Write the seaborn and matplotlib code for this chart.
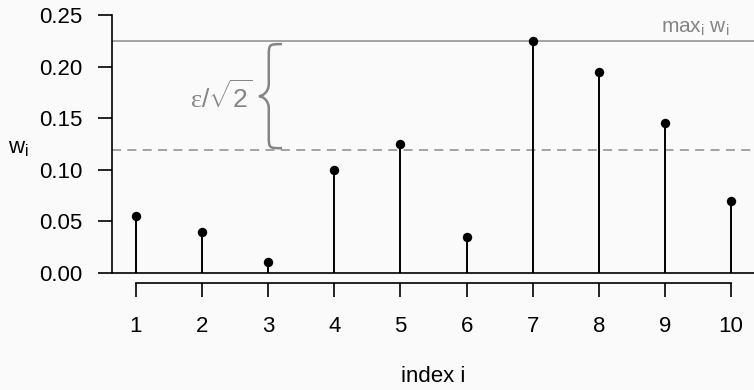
import numpy as np
import pandas as pd
import matplotlib
matplotlib.use("Agg")
import matplotlib.pyplot as plt
from matplotlib.path import Path
from matplotlib.patches import PathPatch
import seaborn as sns

# Weights w_i for each index i
index = [1, 2, 3, 4, 5, 6, 7, 8, 9, 10]
weights = [0.055, 0.040, 0.010, 0.100, 0.125, 0.035, 0.225, 0.195, 0.145, 0.070]
y_ticks = [0.00, 0.05, 0.10, 0.15, 0.20, 0.25]
y_tick_labels = ["0.00", "0.05", "0.10", "0.15", "0.20", "0.25"]
epsilon = 0.15

df = pd.DataFrame({"i": index, "w": weights})
w_max = max(weights)
threshold = w_max - epsilon / np.sqrt(2)

sns.set_theme(style="ticks")
plt.rcParams["font.family"] = ["Liberation Sans", "DejaVu Sans"]
plt.rcParams["mathtext.fontset"] = "custom"
plt.rcParams["mathtext.rm"] = "Liberation Sans"
plt.rcParams["mathtext.it"] = "Liberation Serif"
plt.rcParams["mathtext.bf"] = "Liberation Sans:bold"

BG = "#fafafa"
GREY_TEXT = "#858585"
GREY_LINE = "#9c9c9c"
FS = 16

fig = plt.figure(figsize=(7.54, 3.90), dpi=100, facecolor=BG)
W, H = 754, 390
ax = fig.add_axes([112 / W, (H - 283) / H, (755 - 112) / W, (283 - 5) / H])
ax.set_facecolor(BG)

# R-style 4% range extension
xr = max(index) - min(index)
ax.set_xlim(min(index) - 0.04 * xr, max(index) + 0.04 * xr)
ax.set_ylim(y_ticks[0] - 0.04 * (y_ticks[-1] - y_ticks[0]),
            y_ticks[-1] + 0.04 * (y_ticks[-1] - y_ticks[0]))

# reference lines
ax.axhline(0, color="black", lw=1.2, zorder=1)
ax.axhline(w_max, color=GREY_LINE, lw=1.3, zorder=1)
ax.axhline(threshold, color=GREY_LINE, lw=1.3, linestyle=(0, (5.0, 3.5)), zorder=1)

# stems and points
ax.vlines(df["i"], 0, df["w"], color="black", lw=1.4, zorder=2)
sns.scatterplot(data=df, x="i", y="w", ax=ax, color="black", s=46,
                edgecolor="black", linewidth=0, zorder=3, legend=False)

# axes in base-graphics style
for s in ["top", "right"]:
    ax.spines[s].set_visible(False)
ax.spines["left"].set_bounds(y_ticks[0], y_ticks[-1])
ax.spines["bottom"].set_bounds(index[0], index[-1])
for s in ["left", "bottom"]:
    ax.spines[s].set_linewidth(1.2)
    ax.spines[s].set_color("black")
ax.set_xticks(index)
ax.set_xticklabels([str(v) for v in index])
ax.set_yticks(y_ticks)
ax.set_yticklabels(y_tick_labels)
ax.tick_params(axis="x", length=10, width=1.2, color="black", pad=14,
               labelsize=FS, labelcolor="black")
ax.tick_params(axis="y", length=10, width=1.2, color="black", pad=11,
               labelsize=FS, labelcolor="black")

ax.set_xlabel("index i", fontsize=FS, color="black", labelpad=21)
ax.set_ylabel(r"$\mathregular{w_i}$", fontsize=FS, color="black", rotation=0,
              ha="center", va="center")
ax.yaxis.set_label_coords(-0.145, 0.485)

# annotations
ax.text(max(index) + 0.04 * xr - 0.38, w_max + 0.003,
        r"$\mathregular{max_i\ w_i}$", ha="right", va="bottom",
        fontsize=FS - 1, color=GREY_TEXT)

# curly brace spanning the gap between max and threshold
top = w_max - 0.003
bot = threshold + 0.002
mid = (top + bot) / 2
x_r, x_m, x_l = 3.21, 3.01, 2.86
r = 0.012
verts = [
    (x_r, top),
    (x_m, top), (x_m, top), (x_m, top - r),
    (x_m, mid + r),
    (x_m, mid + 0.3 * r), (x_l + 0.05, mid), (x_l, mid),
    (x_l + 0.05, mid), (x_m, mid - 0.3 * r), (x_m, mid - r),
    (x_m, bot + r),
    (x_m, bot), (x_m, bot), (x_r, bot),
]
codes = [Path.MOVETO,
         Path.CURVE4, Path.CURVE4, Path.CURVE4,
         Path.LINETO,
         Path.CURVE4, Path.CURVE4, Path.CURVE4,
         Path.CURVE4, Path.CURVE4, Path.CURVE4,
         Path.LINETO,
         Path.CURVE4, Path.CURVE4, Path.CURVE4]
ax.add_patch(PathPatch(Path(verts, codes), facecolor="none",
                       edgecolor=GREY_TEXT, lw=1.8, zorder=2))
ax.text(2.76, mid, r"$\varepsilon/\sqrt{\mathregular{2}}$", ha="right",
        va="center", fontsize=FS + 3, color=GREY_TEXT)

fig.savefig("out.png", dpi=100, facecolor=BG)
